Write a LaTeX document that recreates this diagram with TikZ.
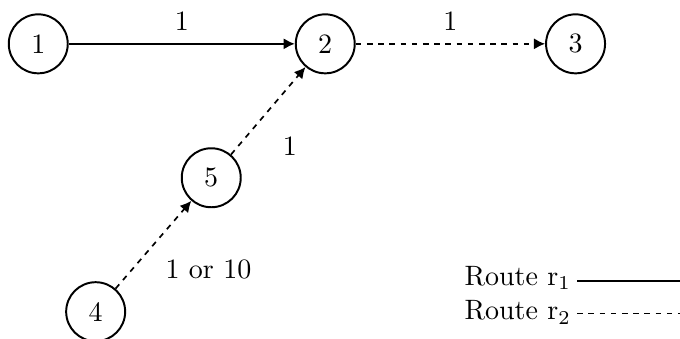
\documentclass[tikz,border=0pt]{standalone}
\usetikzlibrary{positioning,arrows.meta}

\begin{document}
\begin{tikzpicture}[
    router/.style={circle, draw, line width=0.7pt, minimum size=0.74cm, inner sep=0pt},
    routeone/.style={draw, line width=0.6pt, -{Latex[length=4pt,width=4pt]}},
    routetwo/.style={draw, line width=0.6pt, dash pattern=on 2pt off 2pt,
        -{Latex[length=4pt,width=4pt]}},
    legendtext/.style={inner sep=2pt, anchor=base west}
]
\useasboundingbox (0,0) rectangle (8.53,4.25);
\coordinate (rb) at (8.53,0);

% routers
\node (R1) [router] at (0.48,3.70) {1};
\node (R2) [router] at (4.08,3.70) {2};
\node (R3) [router] at (7.22,3.70) {3};
\node (R5) [router] at (2.65,2.02) {5};
\node (R4) [router] at (1.20,0.34) {4};

% links with their costs
\draw [routeone] (R1) -- node[above=1pt] {1} (R2);
\draw [routetwo] (R2) -- node[above=1pt] {1} (R3);
\draw [routetwo] (R5) -- node[midway, xshift=0.27cm, yshift=-0.44cm] {1} (R2);
\draw [routetwo] (R4) -- node[midway, xshift=0.69cm, yshift=-0.31cm] {1 or 10} (R5);

% legend
\node (L1) [legendtext] at (5.75,0.665) {Route r$_1$};
\node (L2) [legendtext] at (5.75,0.238) {Route r$_2$};
\draw [line width=0.7pt] ([yshift=1.8pt]L1.base east) -- ([yshift=1.8pt]L1.base east -| rb);
\draw [line width=0.6pt, dash pattern=on 2pt off 2pt]
    ([yshift=2.2pt]L2.base east) -- ([yshift=2.2pt]L2.base east -| rb);
\end{tikzpicture}
\end{document}
